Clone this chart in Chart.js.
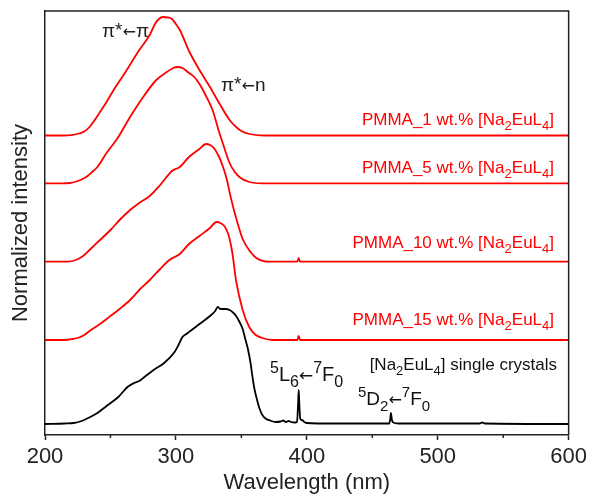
<!DOCTYPE html>
<html>
<head>
<meta charset="utf-8">
<script src="https://cdn.jsdelivr.net/npm/chart.js@4.4.1/dist/chart.umd.min.js"></script>
<style>
  html, body { margin: 0; padding: 0; background: #fff; }
  #wrap { width: 591px; height: 501px; }
</style>
</head>
<body>
<div id="wrap"><canvas id="excitationChart" width="591" height="501"></canvas></div>
<script>
// x ticks (nm)
const majorTicks = [200, 300, 400, 500, 600];
const minorTicks = [250, 350, 450, 550];

// stacked, normalized spectra: [wavelength nm, intensity a.u.]
const pmma1 = [[200, 299.5], [214, 299.5], [220, 299.8], [226, 301.5], [230, 303.5], [234, 308],
  [238, 315], [242, 323], [247, 333], [252, 344], [262, 364], [272, 385], [280, 400], [284, 411],
  [287, 416], [290, 418], [294, 417.5], [297, 416], [300, 411], [303, 405], [310, 384], [318, 365],
  [326, 348], [333, 332], [341, 315], [346, 308], [350, 304], [356, 301], [364, 299.7], [375, 299.5],
  [600, 299.5]];

const pmma5 = [[200, 251.7], [213, 251.7], [219, 252], [224, 253.5], [228, 255.5], [232, 258.5],
  [236, 263], [240, 268], [247, 282], [255, 296], [265, 318], [275, 338], [285, 355], [293, 363],
  [298, 367], [301, 368], [305, 367], [309, 363], [314, 358], [318, 351], [323, 339], [328, 325],
  [333, 303], [336, 291], [341, 272], [345, 263], [349, 257.5], [356, 253], [366, 251.7],
  [600, 251.7]];

const pmma10 = [[200, 173.3], [216, 173.3], [221, 174], [226, 176.5], [230, 180], [234, 185],
  [242, 195], [250, 205], [257, 215], [265, 225], [272, 232], [280, 239], [288, 250], [297, 264],
  [303, 268], [310, 278], [318, 286], [323, 291], [326, 290], [329, 287], [333, 278], [336, 268],
  [339, 255], [342, 237], [346, 217], [351, 196], [357, 183], [362, 176.5], [371, 173.3],
  [392.8, 173.3], [393.8, 177], [394.8, 173.3], [600, 173.3]];

const pmma15 = [[200, 95], [215, 95], [221, 96], [226, 97.5], [230, 100], [234, 104], [242, 111],
  [250, 119], [257, 126], [265, 135], [272, 145], [280, 155], [288, 166], [295, 175], [303, 181],
  [310, 191], [318, 199], [326, 207], [331, 213], [334, 212], [337, 209], [340, 201], [343, 183],
  [346, 154], [351, 125], [356, 108], [361, 100], [366, 97], [374, 95], [392.8, 95], [393.8, 99],
  [394.8, 95], [600, 95]];

const crystals = [[200, 11], [215, 11.5], [222, 12], [228, 14], [233, 17], [240, 22], [248, 30],
  [256, 38], [263, 48], [268, 52], [272, 54], [276, 58], [284, 66], [291, 72], [299, 83], [302, 90],
  [305, 98], [308, 101], [311, 104], [318, 111], [326, 119], [330, 124], [332, 128], [334, 126],
  [338, 126], [341, 125], [344, 122], [346, 119], [349, 112], [351, 106], [353, 96], [355, 86],
  [357, 72], [358.5, 58], [360, 46], [362, 35], [364, 26], [366, 20], [369, 16], [372, 14.5],
  [376, 13], [380, 13.5], [382, 14.5], [384, 13], [386, 14], [388, 13], [391, 12.5], [392.5, 13],
  [393.3, 30], [393.8, 45], [394.3, 30], [395, 16], [396, 15], [397, 14.5], [398, 13], [400, 12],
  [420, 11.5], [463, 11.5], [463.8, 17], [464.2, 22], [465, 15], [466, 12.5], [470, 11.5],
  [532, 11.5], [534, 12.5], [536, 11.5], [600, 11]];

const seriesNames = ["PMMA_1 wt.%", "PMMA_5 wt.%", "PMMA_10 wt.%", "PMMA_15 wt.%"];

const FONT = '"Liberation Sans", Arial, sans-serif';
const ARROW_FONT = '"DejaVu Sans", sans-serif';

// draws text pieces; "_x" = subscript, "^x" = superscript
function richText(ctx, parts, x, y, size, color, align) {
  const items = parts.map(p => {
    const kind = p[0] === "_" ? "sub" : p[0] === "^" ? "sup" : "base";
    const text = kind === "base" ? p : p.slice(1);
    let fs = kind === "base" ? size : Math.round(size * 0.78);
    let family = FONT;
    if (text === "←") { family = ARROW_FONT; fs = Math.round(size * 0.85); }
    if (text === "*") fs = size;
    ctx.font = fs + "px " + family;
    return { text, kind, fs, family, w: ctx.measureText(text).width };
  });
  const total = items.reduce((s, it) => s + it.w, 0);
  let cx = align === "right" ? x - total : x;
  ctx.fillStyle = color;
  ctx.textAlign = "left";
  ctx.textBaseline = "alphabetic";
  items.forEach(it => {
    ctx.font = it.fs + "px " + it.family;
    let dy = it.kind === "sub" ? size * 0.3 : it.kind === "sup" ? -size * 0.42 : 0;
    if (it.text === "*") dy = -size * 0.05;
    if (it.text === "←") dy = -size * 0.02;
    ctx.fillText(it.text, cx, y + dy);
    cx += it.w;
  });
}

const decorations = {
  id: "decorations",
  afterDraw(chart) {
    const { ctx, chartArea: a, scales: { x } } = chart;
    ctx.save();
    ctx.strokeStyle = "#222";
    ctx.lineWidth = 1.5;
    ctx.beginPath();
    ctx.moveTo(a.left, a.top);
    ctx.lineTo(a.right, a.top);
    ctx.lineTo(a.right, a.bottom);
    minorTicks.forEach(v => {
      const px = x.getPixelForValue(v);
      ctx.moveTo(px, a.bottom);
      ctx.lineTo(px, a.bottom + 3);
    });
    ctx.stroke();

    richText(ctx, ["π", "^*", "←", "π"], 102, 37, 19, "#222");
    richText(ctx, ["π", "^*", "←", "n"], 221, 91, 19, "#222");

    const labelY = [125, 173, 248, 325];
    seriesNames.forEach((name, i) => {
      richText(ctx, [name + " [Na", "_2", "EuL", "_4", "]"], 554, labelY[i], 17, "#ff0000", "right");
    });
    richText(ctx, ["[Na", "_2", "EuL", "_4", "] single crystals"], 557, 370, 17, "#111", "right");
    richText(ctx, ["^5", "L", "_6", "←", "^7", "F", "_0"], 270, 381, 20, "#111");
    richText(ctx, ["^5", "D", "_2", "←", "^7", "F", "_0"], 358, 405, 19, "#111");
    ctx.restore();
  }
};

const toXY = arr => arr.map(p => ({ x: p[0], y: p[1] }));
const lineStyle = color => ({
  borderColor: color,
  borderWidth: 1.8,
  pointRadius: 0,
  fill: false,
  cubicInterpolationMode: "monotone"
});

new Chart(document.getElementById("excitationChart"), {
  type: "line",
  data: {
    datasets: [
      { label: seriesNames[0], data: toXY(pmma1), ...lineStyle("#ff0000") },
      { label: seriesNames[1], data: toXY(pmma5), ...lineStyle("#ff0000") },
      { label: seriesNames[2], data: toXY(pmma10), ...lineStyle("#ff0000") },
      { label: seriesNames[3], data: toXY(pmma15), ...lineStyle("#ff0000") },
      { label: "single crystals", data: toXY(crystals), ...lineStyle("#000000") }
    ]
  },
  options: {
    responsive: false,
    animation: false,
    layout: { padding: { top: 11, right: 21, left: 0, bottom: 0 } },
    plugins: { legend: { display: false }, tooltip: { enabled: false } },
    scales: {
      x: {
        type: "linear",
        min: 200,
        max: 600,
        afterBuildTicks: scale => { scale.ticks = majorTicks.map(v => ({ value: v })); },
        afterFit: scale => { scale.height = 66; },
        ticks: { color: "#222", font: { size: 22, family: FONT }, padding: 4, maxRotation: 0 },
        grid: { drawOnChartArea: false, tickLength: 5, tickWidth: 1.5, tickColor: "#222" },
        border: { color: "#222", width: 1.5 },
        title: {
          display: true,
          text: "Wavelength (nm)",
          color: "#222",
          font: { size: 22, family: FONT },
          padding: { top: 0, bottom: 5 }
        }
      },
      y: {
        min: 0,
        max: 424,
        afterFit: scale => { scale.width = 45; },
        ticks: { display: false },
        grid: { display: false, drawTicks: false },
        border: { display: true, color: "#222", width: 1.5 },
        title: {
          display: true,
          text: "Normalized intensity",
          color: "#222",
          font: { size: 22, family: FONT },
          padding: { top: 8, bottom: 0 }
        }
      }
    }
  },
  plugins: [decorations]
});
</script>
</body>
</html>
